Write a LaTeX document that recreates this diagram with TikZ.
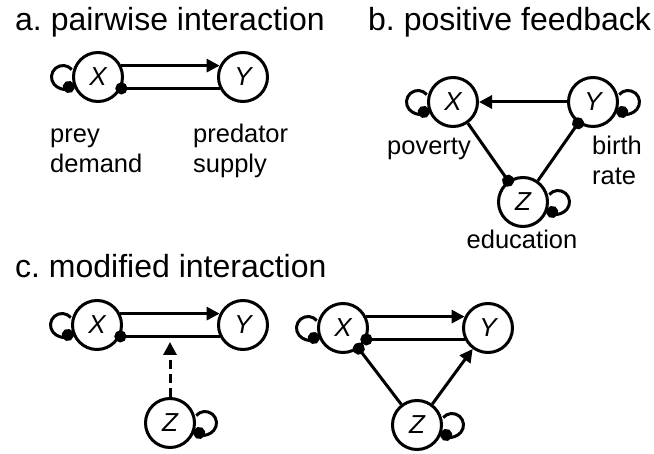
\documentclass[tikz,border=0pt]{standalone}
\usepackage{fontspec}
\setmainfont{Liberation Sans}
\frenchspacing
\usetikzlibrary{arrows.meta,calc}
\tikzset{
  var/.style={circle,draw,line width=3pt,minimum size=49pt,inner sep=0pt,font=\fontsize{26}{30}\selectfont\itshape},
  conn/.style={line width=3pt},
  arr/.style={conn,-{Triangle[length=13pt,width=13pt]}},
  inh/.style={conn,-{Circle[length=12pt]},shorten >=-6pt},
  loopinh/.style={conn,-{Circle[length=12pt]},shorten >=-6pt},
  title/.style={font=\fontsize{32}{38}\selectfont,anchor=base west,inner sep=0pt},
  lab/.style={font=\fontsize{25.5}{30}\selectfont,inner sep=0pt},
}
\newcommand\loopL[1]{\draw[loopinh] ($(#1.center)+(-35pt,0pt)$) ++(40:11.5pt) arc[start angle=40,end angle=300,radius=11.5pt];}
\newcommand\loopR[1]{\draw[loopinh] ($(#1.center)+(35pt,0pt)$) ++(140:11.5pt) arc[start angle=140,end angle=-120,radius=11.5pt];}
\newcommand\twolines[2]{\begin{tabular}[t]{@{}l@{}}#1\\#2\end{tabular}}
\begin{document}
\begin{tikzpicture}[x=1pt,y=1pt]
\useasboundingbox (0,0) rectangle (654,453);
% titles
\node[title] (ta) at (15,422) {a. pairwise interaction};
\node[title] (tb) at (368,422) {b. positive feedback};
\node[title] (tc) at (15,175) {c. modified interaction};
% panel a
\node[var] (aX) at (98,376) {X};
\node[var] (aY) at (243,376) {Y};
\draw[arr] (aX.26) -- (aY.154);
\draw[inh] (aY.206) -- (aX.-26);
\loopL{aX}
\node[lab,anchor=base west] (la1) at (50,310) {\twolines{prey}{demand}};
\node[lab,anchor=base west] (la2) at (193,310) {\twolines{predator}{supply}};
% panel b
\node[var] (bX) at (453,351) {X};
\node[var] (bY) at (593,351) {Y};
\node[var] (bZ) at (523,251) {Z};
\draw[arr] (bY) -- (bX);
\draw[inh] (bX) -- (bZ);
\draw[inh] (bZ) -- (bY);
\loopL{bX}
\loopR{bY}
\loopR{bZ}
\node[lab,anchor=base west] (lb1) at (387,298) {poverty};
\node[lab,anchor=base west] (lb2) at (592,298) {\twolines{birth}{rate}};
\node[lab,anchor=base] (lb3) at (522,204) {education};
% panel c left
\node[var] (cX) at (97,128) {X};
\node[var] (cY) at (243,128) {Y};
\node[var] (cZ) at (170,30) {Z};
\draw[arr] (cX.26) -- (cY.154);
\draw[inh] (cY.206) -- (cX.-26);
\coordinate (cM) at (170,111);
\draw[arr,dash pattern=on 9pt off 5pt] (cZ) -- (cM);
\loopL{cX}
\loopR{cZ}
% panel c right
\node[var] (dX) at (343,125) {X};
\node[var] (dY) at (488,125) {Y};
\node[var] (dZ) at (417,28) {Z};
\draw[arr] (dX.26) -- (dY.154);
\draw[inh] (dY.206) -- (dX.-26);
\draw[inh] (dZ) -- (dX);
\draw[arr] (dZ) -- (dY);
\loopL{dX}
\loopR{dZ}
\end{tikzpicture}
\end{document}
